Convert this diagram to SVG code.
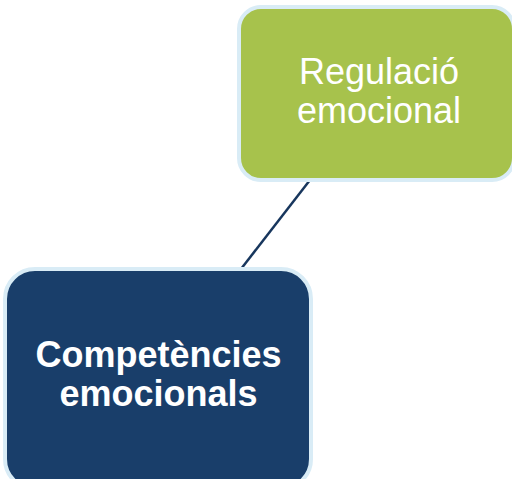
<svg xmlns="http://www.w3.org/2000/svg" width="512" height="479" viewBox="0 0 512 479">
<style>
.box{stroke:#d9ecf6;stroke-width:4}
.t{font-family:"Liberation Sans",Arial,sans-serif;fill:#fff;text-anchor:middle}
</style>
<rect width="512" height="479" fill="#fff"/>
<g id="connectors">
<line x1="241" y1="269" x2="310" y2="180" stroke="#17365d" stroke-width="2.5"/>
</g>
<g id="node-regulacio">
<rect class="box" x="239" y="7" width="275" height="173" rx="22" fill="#a7c24c"/>
<text class="t" x="379" y="84" font-size="36">Regulació</text>
<text class="t" x="379" y="123" font-size="36">emocional</text>
</g>
<g id="node-competencies">
<rect class="box" x="5" y="269" width="306" height="220" rx="30" fill="#193e6a"/>
<text class="t" x="158.5" y="367" font-size="36" font-weight="bold">Competències</text>
<text class="t" x="158.5" y="406" font-size="36" font-weight="bold">emocionals</text>
</g>
</svg>
